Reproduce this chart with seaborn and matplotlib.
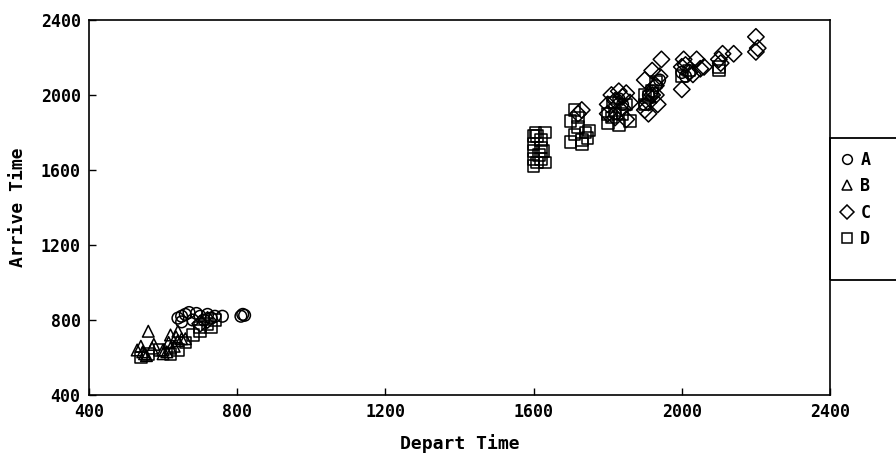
import matplotlib
matplotlib.use('Agg')
from matplotlib import pyplot as plt
from matplotlib.lines import Line2D
from matplotlib.patches import Rectangle
import seaborn as sns
import pandas as pd

# Depart / arrive times (HHMM), one pair of lists per group
a_depart = [640, 650, 660, 650, 680, 700, 710, 720, 730, 740, 760, 810, 815, 820, 670, 690,
            1820, 1840, 1900, 1910, 1930, 1940, 2000, 2010, 1830, 1920]
a_arrive = [810, 820, 830, 790, 800, 820, 800, 830, 810, 820, 820, 820, 830, 825, 840, 835,
            1900, 1950, 1950, 2000, 2050, 2080, 2120, 2100, 1980, 2020]

b_depart = [530, 540, 560, 550, 545, 570, 600, 610, 620, 630, 640, 650, 660, 600, 620, 640,
            555, 575, 615, 635]
b_arrive = [640, 660, 740, 620, 630, 650, 640, 630, 650, 660, 690, 700, 700, 620, 720, 740,
            610, 670, 680, 710]

c_depart = [700, 720, 1720, 1730,
            1800, 1810, 1820, 1830, 1840, 1850, 1860, 1800, 1820, 1840, 1850,
            1900, 1910, 1920, 1930, 1940, 1945, 1900, 1920, 1935, 1930, 1910,
            2000, 2005, 2020, 2040, 2050, 2010, 2000, 2060, 2030,
            2100, 2110, 2140, 2105, 2200, 2205, 2200]
c_arrive = [780, 800, 1900, 1920,
            1950, 2000, 1970, 2020, 1990, 2010, 1960, 1900, 1880, 1930, 1870,
            1920, 1960, 2000, 2050, 2100, 2190, 2080, 2130, 1950, 2000, 1900,
            2030, 2190, 2120, 2190, 2140, 2160, 2150, 2150, 2110,
            2190, 2220, 2220, 2170, 2310, 2250, 2230]

d_depart = [540, 560, 620, 640, 700, 720, 740, 700, 730, 680, 590, 660,
            1600, 1600, 1600, 1600, 1600, 1610, 1615, 1620, 1620, 1630, 1630, 1605, 1625,
            1610, 1620,
            1700, 1710, 1720, 1730, 1740, 1750, 1710, 1720, 1700, 1730, 1745,
            1800, 1810, 1820, 1830, 1840, 1850, 1860, 1800, 1815,
            1900, 1910, 1920, 1900, 1930, 2000, 2020, 2100, 2100]
d_arrive = [600, 620, 620, 640, 760, 780, 800, 740, 760, 720, 640, 680,
            1620, 1660, 1700, 1740, 1780, 1640, 1680, 1720, 1760, 1800, 1640, 1800, 1700,
            1780, 1660,
            1750, 1790, 1830, 1760, 1800, 1810, 1920, 1880, 1860, 1740, 1770,
            1850, 1880, 1920, 1840, 1900, 1950, 1860, 1900, 1960,
            1950, 1990, 2020, 2000, 2070, 2100, 2130, 2130, 2150]

groups = ['A', 'B', 'C', 'D']
group_markers = {'A': 'o', 'B': '^', 'C': 'D', 'D': 's'}

df = pd.concat([
    pd.DataFrame({'depart': a_depart, 'arrive': a_arrive, 'group': 'A'}),
    pd.DataFrame({'depart': b_depart, 'arrive': b_arrive, 'group': 'B'}),
    pd.DataFrame({'depart': c_depart, 'arrive': c_arrive, 'group': 'C'}),
    pd.DataFrame({'depart': d_depart, 'arrive': d_arrive, 'group': 'D'}),
], ignore_index=True)

sns.set_style('ticks')
plt.rcParams['font.family'] = ['DejaVu Sans Mono', 'DejaVu Sans']
plt.rcParams['font.weight'] = 'bold'
plt.rcParams['text.color'] = 'black'
plt.rcParams['axes.labelcolor'] = 'black'
plt.rcParams['xtick.color'] = 'black'
plt.rcParams['ytick.color'] = 'black'

fig = plt.figure(figsize=(8.96, 4.54), dpi=100)
ax = fig.add_axes([89 / 896, 1 - 395 / 454, (830 - 89) / 896, (395 - 20) / 454])

sns.scatterplot(data=df, x='depart', y='arrive', style='group', markers=group_markers,
                style_order=groups, s=70, color='black', facecolor='none',
                edgecolor='black', linewidth=1.1, legend=False, ax=ax)

ax.set_xlim(400, 2400)
ax.set_ylim(400, 2400)
ax.set_xticks([400, 800, 1200, 1600, 2000, 2400])
ax.set_yticks([400, 800, 1200, 1600, 2000, 2400])
ax.tick_params(direction='in', length=5, width=1, labelsize=12, pad=6, colors='black')
for lab in ax.get_xticklabels() + ax.get_yticklabels():
    lab.set_fontweight('bold')
for sp in ax.spines.values():
    sp.set_visible(True)
    sp.set_color('black')
    sp.set_linewidth(1.2)

ax.set_xlabel('Depart Time', fontsize=13, fontweight='bold', labelpad=9)
ax.set_ylabel('Arrive Time', fontsize=13, fontweight='bold', labelpad=10)

# legend box runs off the right edge of the figure, as in the scan
fig.patches.append(Rectangle((830 / 896, 1 - 280 / 454), 0.2, 142 / 454,
                             transform=fig.transFigure, fill=False,
                             edgecolor='black', linewidth=1.3))
handles = [Line2D([], [], linestyle='', marker=group_markers[g], markersize=7,
                  markerfacecolor='none', markeredgecolor='black', markeredgewidth=1.1)
           for g in groups]
fig.legend(handles, groups, loc='upper left', bbox_to_anchor=(837 / 896, 1 - 151 / 454),
           borderaxespad=0, frameon=False, labelspacing=0.5, handletextpad=0.2,
           borderpad=0, handlelength=1.2, prop={'weight': 'bold', 'size': 12})

fig.savefig('out.png', dpi=100, facecolor='white')
